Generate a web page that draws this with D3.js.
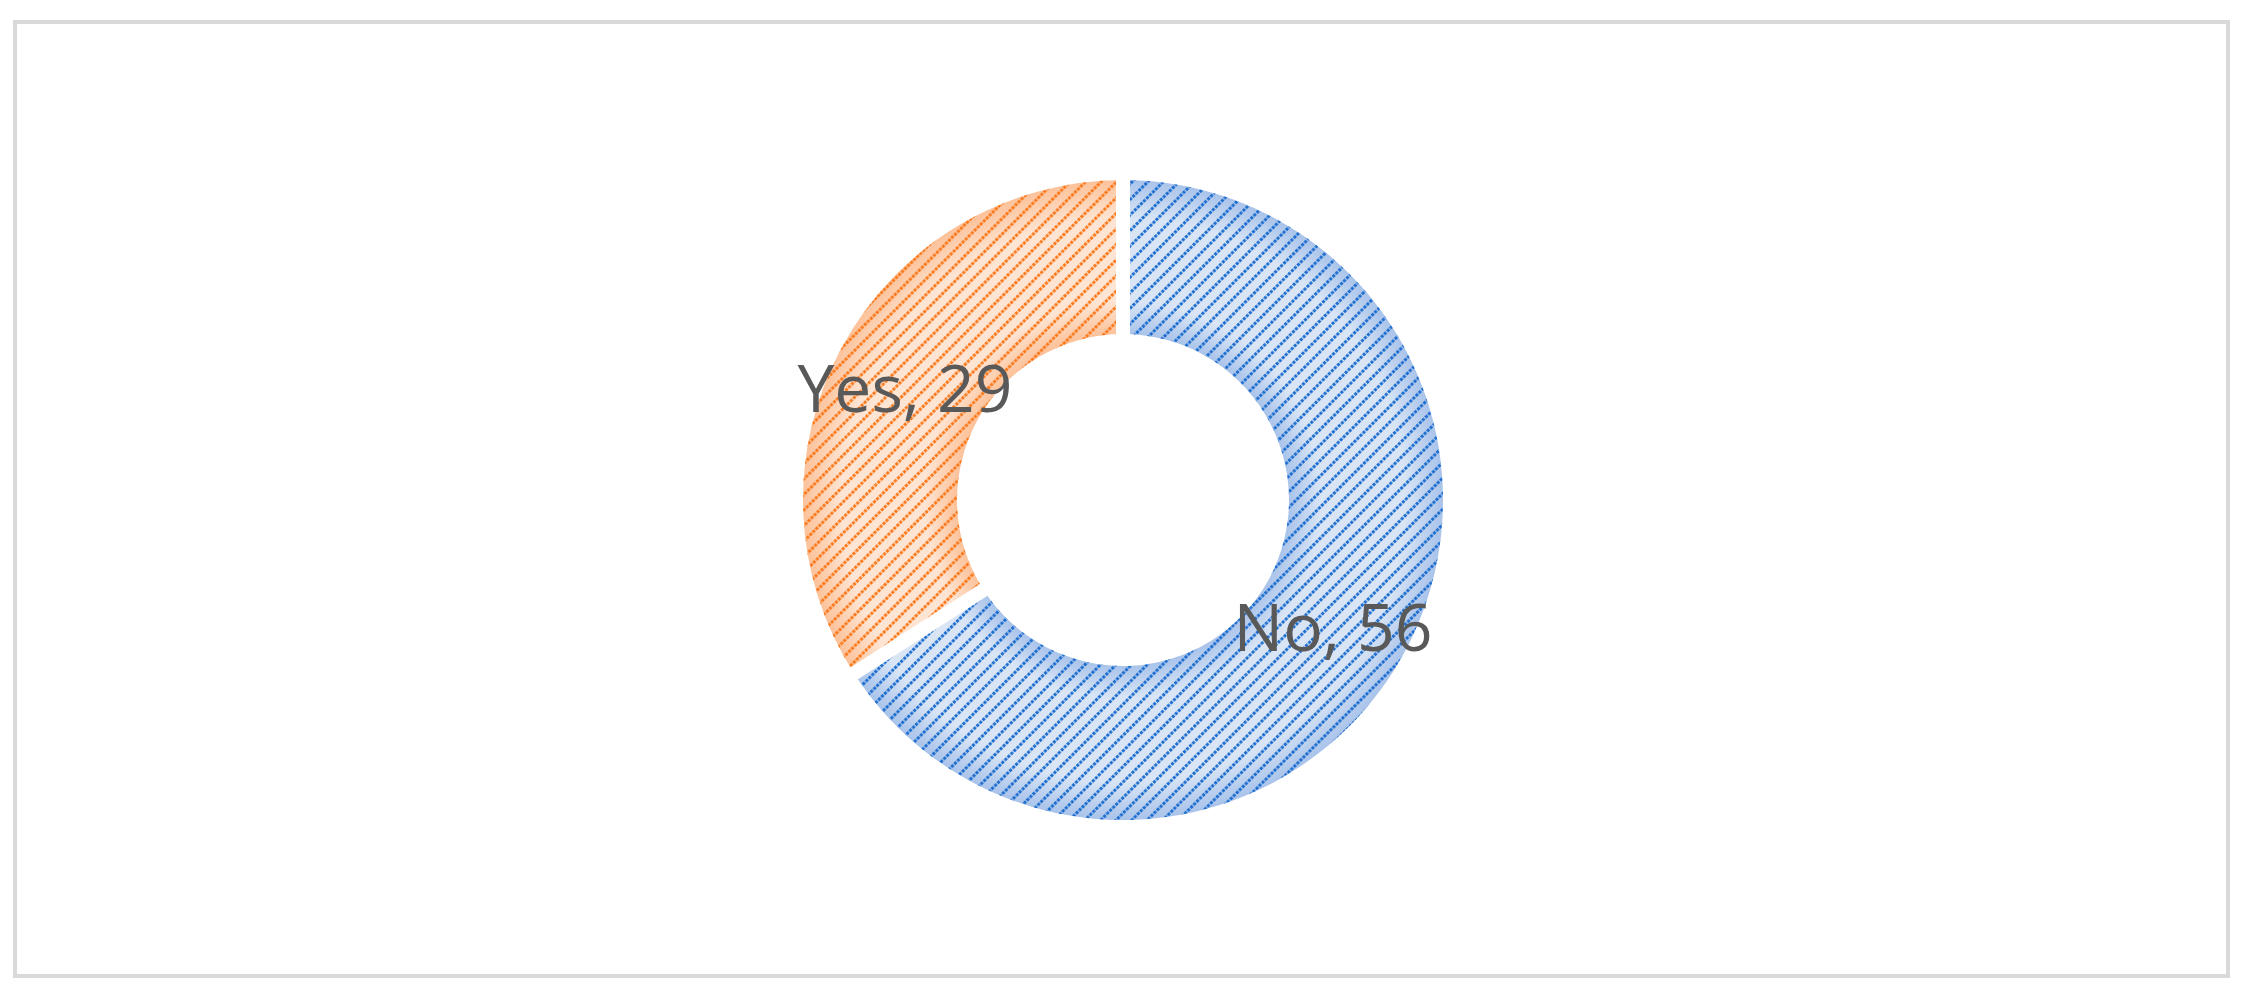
<!DOCTYPE html>
<html><head><meta charset="utf-8">
<script src="https://cdn.jsdelivr.net/npm/d3@7"></script>
<style>body{margin:0;background:#fff}</style>
</head><body>
<svg id="chart" width="2243" height="995"></svg>
<script>
var labels = ["No", "Yes"];
var values = [56, 29];
var lineColors = ["#1f6fd0", "#fb7a1d"];
var fillColors = ["#d9e5f5", "#fee4d2"];
var edgeColors = ["#a9c3ea", "#fcc29a"];

var svg = d3.select("#chart");
var cx = 1123, cy = 500, rOut = 320, rIn = 166;

svg.append("rect").attr("x", 15).attr("y", 22).attr("width", 2213).attr("height", 954)
  .attr("fill", "#fff").attr("stroke", "#d9d9d9").attr("stroke-width", 4);

var defs = svg.append("defs");
labels.forEach(function(l, i) {
  var g = defs.append("radialGradient").attr("id", "grad" + i)
    .attr("gradientUnits", "userSpaceOnUse")
    .attr("cx", 0).attr("cy", 0).attr("r", rOut);
  g.append("stop").attr("offset", rIn / rOut).attr("stop-color", edgeColors[i]);
  g.append("stop").attr("offset", 0.62).attr("stop-color", fillColors[i]);
  g.append("stop").attr("offset", 0.88).attr("stop-color", fillColors[i]);
  g.append("stop").attr("offset", 1).attr("stop-color", edgeColors[i]);
  var p = defs.append("pattern").attr("id", "pat" + i)
    .attr("patternUnits", "userSpaceOnUse")
    .attr("width", 8.5).attr("height", 11)
    .attr("patternTransform", "rotate(-45)");
  p.append("line").attr("x1", 0).attr("x2", 8.5).attr("y1", 1.5).attr("y2", 1.5)
    .attr("stroke", lineColors[i]).attr("stroke-width", 3)
    .attr("stroke-dasharray", "3,1.25");
});

var pie = d3.pie().sort(null).value(function(d) { return d; });
var arc = d3.arc().innerRadius(rIn).outerRadius(rOut);
var arcs = pie(values);

var g = svg.append("g").attr("transform", "translate(" + cx + "," + cy + ")");
arcs.forEach(function(a, i) {
  g.append("path").attr("d", arc(a)).attr("fill", "url(#grad" + i + ")");
  g.append("path").attr("d", arc(a)).attr("fill", "url(#pat" + i + ")");
});
// white separators between slices
arcs.forEach(function(a) {
  var ang = a.startAngle;
  g.append("line")
    .attr("x1", Math.sin(ang) * (rIn - 5)).attr("y1", -Math.cos(ang) * (rIn - 5))
    .attr("x2", Math.sin(ang) * (rOut + 5)).attr("y2", -Math.cos(ang) * (rOut + 5))
    .attr("stroke", "#fff").attr("stroke-width", 14);
});

// data labels
var labelPos = [[210, 151], [-218, -88]];
arcs.forEach(function(a, i) {
  g.append("text")
    .attr("x", labelPos[i][0]).attr("y", labelPos[i][1])
    .attr("text-anchor", "middle")
    .attr("font-family", "'Open Sans', sans-serif")
    .attr("font-size", 66)
    .attr("fill", "#595959")
    .text(labels[i] + ", " + values[i]);
});
</script>
</body></html>
